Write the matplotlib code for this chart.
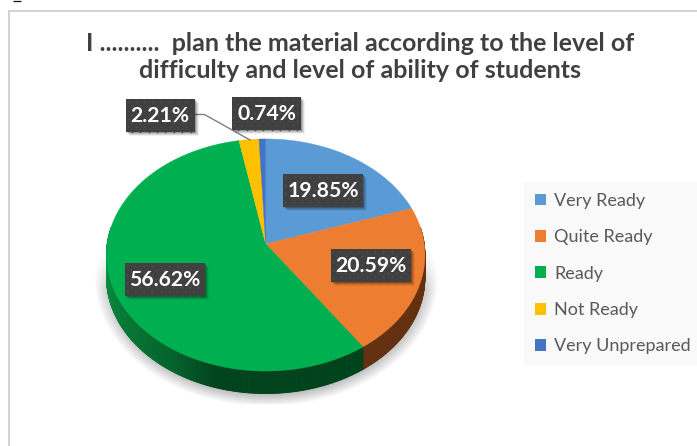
import numpy as np
import matplotlib
matplotlib.use('Agg')
import matplotlib.pyplot as plt
from matplotlib.collections import PolyCollection
from matplotlib.patches import Patch, Polygon, Rectangle

plt.rcParams['font.family'] = ['Lato', 'DejaVu Sans']

title = 'I ..........  plan the material according to the level of\ndifficulty and level of ability of students'
categories = ['Very Ready', 'Quite Ready', 'Ready', 'Not Ready', 'Very Unprepared']
values = [19.85, 20.59, 56.62, 2.21, 0.74]
colors = ['#5B9BD5', '#ED7D31', '#00B050', '#FFC000', '#4472C4']
side_colors = ['#3c6a92', '#633112', '#00431c', '#a07800', '#2c4a80']
# label box centres, in pixels
label_pos = [(323.3, 190.5), (371, 265.5), (165, 279.5), (160, 115.5), (266.5, 113.5)]

# pie geometry in pixels, tilted with a small perspective
cx, cy = 265.7, 244.0
rx, ry = 158.5, 115.0
tilt = 0.0948
depth = 22.5


def project(angle, r=1.0):
    # angle runs clockwise from the top of the pie
    x = r * np.sin(angle)
    y = r * np.cos(angle)
    w = 1 + tilt * y
    return cx + rx * x / w, cy - ry * y / w


fig = plt.figure(figsize=(6.97, 4.46), dpi=100)
ax = fig.add_axes([0, 0, 1, 1])
ax.axis('off')

# chart frame, open on the right and bottom
ax.plot([8.5, 8.5, 697], [446, 10.5, 10.5], color='#c8c8c8', lw=1.1, solid_joinstyle='miter')
ax.plot([12.5, 20.5], [0.6, 0.6], color='#111111', lw=0.9, solid_capstyle='butt')

# soft floor shadow under the pie
gx, gy = np.meshgrid(np.arange(90, 445), np.arange(240, 404))
dist = np.sqrt(((gx - 266) / 172.0) ** 2 + ((gy - 278) / 128.0) ** 2)
alpha = np.clip((1.0 - dist) / 0.12, 0, 1) * 0.5
alpha *= np.clip((gy - 250) / 40.0, 0, 1)
shadow = np.zeros(gx.shape + (4,))
shadow[..., :3] = 0.35
shadow[..., 3] = alpha
ax.imshow(shadow, extent=(90, 445, 404, 240), zorder=1, aspect='auto', interpolation='bilinear')
ax.set_xlim(0, 697)
ax.set_ylim(446, 0)

edges = np.cumsum([0] + values) / sum(values) * 2 * np.pi

# rim of the pie, the green part lightens from the lowest point towards the left
quads = []
quad_colors = []
for i in range(len(values)):
    steps = max(int((edges[i + 1] - edges[i]) * 120), 2)
    ang = np.linspace(edges[i], edges[i + 1], steps + 1)
    base = np.array(matplotlib.colors.to_rgb(side_colors[i]))
    for j in range(steps):
        a0, a1 = ang[j], ang[j + 1]
        if np.cos((a0 + a1) / 2) > 0.15:
            continue
        x0, y0 = project(a0)
        x1, y1 = project(a1)
        quads.append([(x0, y0), (x1, y1), (x1, y1 + depth), (x0, y0 + depth)])
        if i == 2:
            t = np.interp(j / steps, [0.0, 0.25, 0.33, 0.42, 0.62], [0.0, 0.0, 0.4, 0.6, 1.0])
            quad_colors.append(base + (np.array(matplotlib.colors.to_rgb('#0b9444')) - base) * t)
        else:
            quad_colors.append(base)
rim = PolyCollection(quads, facecolors=quad_colors, edgecolors=quad_colors, linewidths=0.6, zorder=2)
ax.add_collection(rim)

# top face wedges
for i in range(len(values)):
    ang = np.linspace(edges[i], edges[i + 1], 200)
    px, py = project(ang)
    pts = np.column_stack([np.r_[cx, px], np.r_[cy, py]])
    ax.add_patch(Polygon(pts, closed=True, facecolor=colors[i], edgecolor=colors[i], lw=0.3, zorder=3))

# leader line for the small slice
ax.plot([195, 204.5, 250], [114.5, 114.5, 140], color='#7f7f7f', lw=1.0, zorder=4)

# value labels on dark dotted boxes with a drop shadow
for v, (lx, ly) in zip(values, label_pos):
    txt = f'{v:.2f}%'
    hw = 40 if v >= 10 else 34.5
    hh = 16.3
    for off, a in [(5, 0.06), (4, 0.09), (3, 0.14), (2, 0.18)]:
        ax.add_patch(Rectangle((lx - hw + off - 1, ly - hh + off - 1), 2 * hw, 2 * hh,
                               facecolor='black', alpha=a, lw=0, zorder=5))
    box = Rectangle((lx - hw, ly - hh), 2 * hw, 2 * hh, facecolor='#404040', lw=0, zorder=6)
    ax.add_patch(box)
    dots_x = []
    dots_y = []
    for row, yy in enumerate(np.arange(ly - hh + 3, ly + hh, 4.2)):
        for xx in np.arange(lx - hw + 2 + (row % 2) * 4.2, lx + hw, 8.4):
            dots_x.append(xx)
            dots_y.append(yy)
    ax.scatter(dots_x, dots_y, s=1.6, color='#505050', lw=0, zorder=7)
    ax.text(lx, ly + 0.5, txt, color='white', fontsize=15.2, fontweight='bold',
            ha='center', va='center', zorder=8)

ax.text(360, 57, title, color='#404040', fontsize=18, fontweight='bold', ha='center', va='center',
        linespacing=1.22, zorder=4)

handles = [Patch(facecolor=c, edgecolor='none') for c in colors]
leg = ax.legend(handles, categories, loc='upper left', bbox_to_anchor=(524 / 697, 1 - 182 / 446),
                bbox_transform=fig.transFigure, frameon=True, facecolor='#f9f9f9', edgecolor='none',
                fancybox=False, framealpha=1, fontsize=13, labelcolor='#595959',
                handlelength=0.62, handleheight=0.62, handletextpad=0.45, labelspacing=1.13,
                borderaxespad=0, borderpad=0.6)

fig.savefig('out.png', dpi=100)
